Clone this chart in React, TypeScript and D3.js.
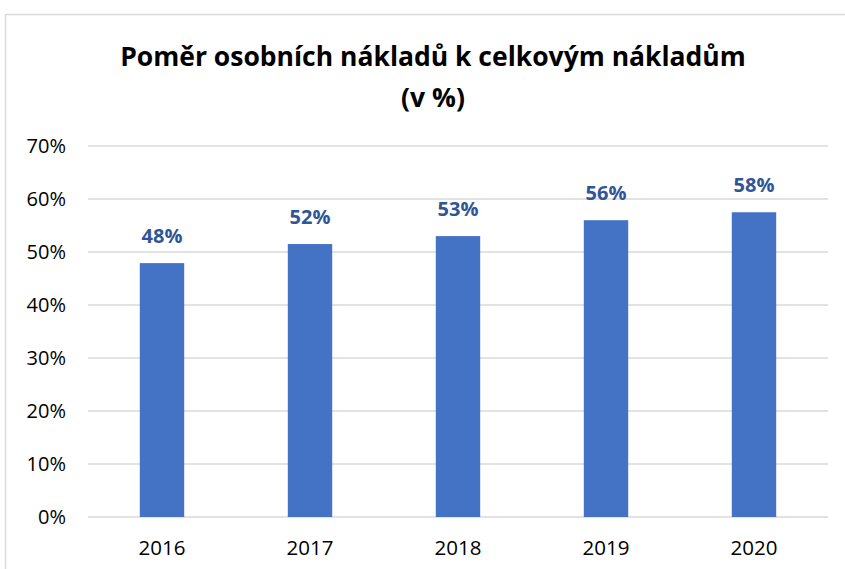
import React from "react";
import * as d3 from "d3";

const years = ["2016", "2017", "2018", "2019", "2020"];
const values = [0.479, 0.515, 0.53, 0.56, 0.575];
const valueLabels = ["48%", "52%", "53%", "56%", "58%"];
const yTicks = [0, 0.1, 0.2, 0.3, 0.4, 0.5, 0.6, 0.7];
const titleLines = ["Poměr osobních nákladů k celkovým nákladům", "(v %)"];

const W = 845;
const H = 569;
const FONT = "'Open Sans', 'Noto Sans', sans-serif";

export default function App() {
  const plotLeft = 88;
  const plotRight = 828;
  const plotTop = 146;
  const plotBottom = 517;

  const x = d3.scaleBand<string>().domain(years).range([plotLeft, plotRight]).paddingInner(0.7).paddingOuter(0.35);
  const y = d3.scaleLinear().domain([0, 0.7]).range([plotBottom, plotTop]);
  const fmt = d3.format(".0%");

  return (
    <svg width={W} height={H} style={{ position: "absolute", left: 0, top: 0 }}>
      <rect x={0} y={0} width={W} height={H} fill="#fff" />
      <rect x={5.5} y={14.5} width={W + 10} height={H + 10} fill="#fff" stroke="#d9d9d9" strokeWidth={1.5} />
      <g fontFamily={FONT} fontWeight={700} fill="#000" textAnchor="middle">
        <text x={433} y={66} fontSize={26.5}>{titleLines[0]}</text>
        <text x={433} y={107} fontSize={26.5}>{titleLines[1]}</text>
      </g>
      {yTicks.map((t) => (
        <g key={t}>
          <line x1={plotLeft} x2={plotRight} y1={y(t)} y2={y(t)} stroke="#d9d9d9" strokeWidth={1.5} />
          <text x={66} y={y(t)} dy="0.35em" textAnchor="end" fontFamily={FONT} fontSize={20} fill="#000">
            {fmt(t)}
          </text>
        </g>
      ))}
      {years.map((yr, i) => (
        <g key={yr}>
          <rect x={x(yr)} y={y(values[i])} width={x.bandwidth()} height={plotBottom - y(values[i])} fill="#4472C4" />
          <text
            x={(x(yr) as number) + x.bandwidth() / 2}
            y={y(values[i]) - 20}
            textAnchor="middle"
            fontFamily={FONT}
            fontWeight={700}
            fontSize={20}
            fill="#2F5597"
          >
            {valueLabels[i]}
          </text>
          <text
            x={(x(yr) as number) + x.bandwidth() / 2}
            y={555}
            textAnchor="middle"
            fontFamily={FONT}
            fontSize={20.5}
            fill="#000"
          >
            {yr}
          </text>
        </g>
      ))}
    </svg>
  );
}
